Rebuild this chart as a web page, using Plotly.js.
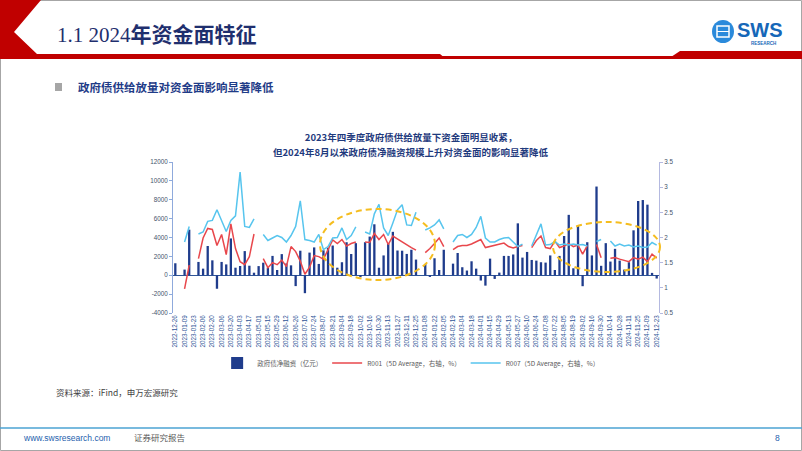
<!DOCTYPE html>
<html><head><meta charset="utf-8">
<script src="https://cdn.plot.ly/plotly-3.0.1.min.js"></script>
<style>html,body{margin:0;padding:0;background:#fff;overflow:hidden}#chart{width:802px;height:451px}</style>
</head><body><div id="chart"></div>
<script>
// ---- data (weekly) ----
const dates = [
"2022-12-26","2023-01-02","2023-01-09","2023-01-16","2023-01-23","2023-01-30","2023-02-06","2023-02-13","2023-02-20","2023-02-27",
"2023-03-06","2023-03-13","2023-03-20","2023-03-27","2023-04-03","2023-04-10","2023-04-17","2023-04-24","2023-05-01","2023-05-08",
"2023-05-15","2023-05-22","2023-05-29","2023-06-05","2023-06-12","2023-06-19","2023-06-26","2023-07-03","2023-07-10","2023-07-17",
"2023-07-24","2023-07-31","2023-08-07","2023-08-14","2023-08-21","2023-08-28","2023-09-04","2023-09-11","2023-09-18","2023-09-25",
"2023-10-02","2023-10-09","2023-10-16","2023-10-23","2023-10-30","2023-11-06","2023-11-13","2023-11-20","2023-11-27","2023-12-04",
"2023-12-11","2023-12-18","2023-12-25","2024-01-01","2024-01-08","2024-01-15","2024-01-22","2024-01-29","2024-02-05","2024-02-12",
"2024-02-19","2024-02-26","2024-03-04","2024-03-11","2024-03-18","2024-03-25","2024-04-01","2024-04-08","2024-04-15","2024-04-22",
"2024-04-29","2024-05-06","2024-05-13","2024-05-20","2024-05-27","2024-06-03","2024-06-10","2024-06-17","2024-06-24","2024-07-01",
"2024-07-08","2024-07-15","2024-07-22","2024-07-29","2024-08-05","2024-08-12","2024-08-19","2024-08-26","2024-09-02","2024-09-09",
"2024-09-16","2024-09-23","2024-09-30","2024-10-07","2024-10-14","2024-10-21","2024-10-28","2024-11-04","2024-11-11","2024-11-18",
"2024-11-25","2024-12-02","2024-12-09","2024-12-16","2024-12-23"];

// 政府债净融资（亿元）
const netFinancing = [
1270,null,600,4830,null,1410,700,3100,1580,-1430,
1410,1150,3900,800,980,2560,1010,270,970,1330,
820,2050,560,2240,1250,1050,-1150,2600,-1900,2400,
2950,1200,2650,2900,3150,800,1380,3500,2250,3400,
-200,3500,4100,5400,800,2100,3350,4600,2620,2600,
2260,2700,1660,null,1200,-180,1800,560,2700,null,
1230,2360,850,500,1480,700,-560,-1100,1760,-390,
280,2050,2050,2200,5500,1870,2470,1620,1550,1380,
1340,2100,560,2050,4160,6400,740,5300,-1160,3500,
2100,9400,1000,3400,1450,2800,1550,600,1380,4760,
7870,7970,7480,250,-350];

// R001 (5D Average, %)
const r001 = [
null,null,0.98,1.45,null,1.58,1.99,2.18,2.16,1.84,
2.06,1.66,2.27,1.78,1.52,1.46,1.62,2.07,null,1.58,
1.40,1.50,1.46,1.55,1.42,1.82,1.72,1.53,1.27,1.41,
1.64,1.62,1.57,1.76,1.95,1.88,1.96,1.83,1.88,1.91,
null,1.91,1.90,2.08,1.96,2.06,1.86,2.03,1.97,1.92,
1.86,1.80,1.75,null,1.70,1.78,1.88,1.99,1.82,null,
1.76,1.82,1.84,1.84,1.87,1.91,1.96,1.80,1.82,1.84,
1.86,1.89,1.82,1.79,1.82,1.84,null,1.80,1.94,2.03,
1.80,1.78,1.93,1.80,1.83,1.88,1.82,1.85,1.67,1.84,
null,1.86,1.60,null,1.59,1.60,1.57,1.54,1.52,1.60,
1.57,1.61,1.52,1.67,1.59];

// R007 (5D Average, %)
const r007 = [
null,null,1.91,2.22,null,2.07,2.11,2.32,2.34,2.55,
2.33,2.12,2.34,2.43,3.30,2.22,2.20,2.37,null,2.06,
1.94,1.99,2.04,2.00,1.91,2.04,2.22,2.73,1.96,1.94,
1.91,2.06,1.76,1.82,1.99,2.00,2.19,1.96,2.04,2.21,
null,2.11,2.07,2.47,2.66,2.19,2.04,2.29,2.55,2.65,
2.25,2.24,2.50,null,2.15,2.19,2.25,2.35,2.17,null,
1.91,2.04,2.06,2.00,2.06,2.20,2.42,1.99,1.91,1.91,
1.96,1.99,2.00,1.91,1.82,1.87,null,1.83,2.05,2.27,
1.85,1.86,1.92,1.85,1.87,1.85,1.87,1.85,1.86,1.83,
null,1.92,1.96,null,1.93,1.83,1.87,1.83,1.85,1.81,
1.83,1.80,1.81,1.90,1.85];

const leftTickVals = [-4000,-2000,0,2000,4000,6000,8000,10000,12000];
const leftTickText = ["-4000","-2000","0","2000","4000","6000","8000","10000","12000"];
const rightTickVals = [0.5,1,1.5,2,2.5,3,3.5];
const rightTickText = ["0.5","1","1.5","2","2.5","3","3.5"];
const xTickLabels = dates.filter((d,i)=>i%2===0);

const seriesNames = ["政府债净融资（亿元）","R001（5D Average，右轴，%）","R007（5D Average，右轴，%）"];
const titleLine1 = "2023年四季度政府债供给放量下资金面明显收紧，";
const titleLine2 = "但2024年8月以来政府债净融资规模上升对资金面的影响显著降低";

// ---- page geometry helpers (pixel -> paper) ----
const L=173,R=659,T=162,B=313;
const px = x => (x-L)/(R-L);
const py = y => (B-y)/(B-T);
function poly(pts){return pts.map((p,i)=>(i?'L':'M')+px(p[0]).toFixed(5)+','+py(p[1]).toFixed(5)).join(' ')+' Z';}
const noLine = {color:'rgba(0,0,0,0)',width:0};
const CJK = "Noto Sans CJK SC, Liberation Sans, sans-serif";

const shapes = [
  {type:'rect',xref:'paper',yref:'paper',x0:px(0.5),x1:px(801.5),y0:py(450.5),y1:py(0.5),line:{color:'#A6A6A6',width:1},fillcolor:'rgba(0,0,0,0)',layer:'above'},
  {type:'path',xref:'paper',yref:'paper',path:poly([[0,0],[41,0],[14,32],[37,54],[440,54],[446,59],[0,59]]),fillcolor:'#C00000',line:noLine,layer:'above'},
  {type:'path',xref:'paper',yref:'paper',path:poly([[440,56],[680,56],[680,59],[440,59]]),fillcolor:'#C00000',line:noLine,layer:'above'},
  {type:'path',xref:'paper',yref:'paper',path:poly([[668,59],[680,51],[802,51],[802,59]]),fillcolor:'#C00000',line:noLine,layer:'above'},
  {type:'circle',xref:'paper',yref:'paper',x0:px(712),x1:px(734),y0:py(43),y1:py(20),fillcolor:'#2B8ADB',line:noLine,layer:'above'},
  {type:'rect',xref:'paper',yref:'paper',x0:px(717),x1:px(729),y0:py(37),y1:py(26),fillcolor:'rgba(0,0,0,0)',line:{color:'#ffffff',width:1.5},layer:'above'},
  {type:'line',xref:'paper',yref:'paper',x0:px(717),x1:px(729),y0:py(31.5),y1:py(31.5),line:{color:'#ffffff',width:1},layer:'above'},
  {type:'rect',xref:'paper',yref:'paper',x0:px(55),x1:px(62),y0:py(91),y1:py(83),fillcolor:'#A6A6A6',line:noLine,layer:'above'},
  {type:'line',xref:'paper',yref:'paper',x0:px(0),x1:px(802),y0:py(428),y1:py(428),line:{color:'#4BA3D3',width:1.5},layer:'above'},
  {type:'circle',xref:'paper',yref:'paper',x0:px(320),x1:px(435),y0:py(280),y1:py(209),line:{color:'#F5BD1F',width:2,dash:'6px,4px'},fillcolor:'rgba(0,0,0,0)',layer:'above'},
  {type:'circle',xref:'paper',yref:'paper',x0:px(553),x1:px(660),y0:py(272),y1:py(222),line:{color:'#F5BD1F',width:2,dash:'6px,4px'},fillcolor:'rgba(0,0,0,0)',layer:'above'}
];

function ann(x,y,text,font,xanchor){return {xref:'paper',yref:'paper',x:px(x),y:py(y),text:text,showarrow:false,xanchor:xanchor||'left',yanchor:'middle',font:font};}
const annotations = [
  ann(55,35,"1.1 2024<b>年资金面特征</b>",{family:"Liberation Serif, Noto Sans CJK SC, serif",size:21,color:'#1F2F6E'}),
  ann(735,30,"<b>SWS</b>",{family:"Liberation Sans, Arial, sans-serif",size:20,color:'#1667B8'}),
  ann(749,43,"<b>RESEARCH</b>",{family:"Liberation Sans, Arial, sans-serif",size:4.5,color:'#1667B8'}),
  ann(76,87,"<b>政府债供给放量对资金面影响显著降低</b>",{family:CJK,size:11.5,color:'#1F3C88'}),
  ann(411,151.5,"<b>"+titleLine2+"</b>",{family:CJK,size:9.5,color:'#1F3A7D'},'center'),
  ann(54,392,"资料来源：iFind，申万宏源研究",{family:CJK,size:8.5,color:'#404040'}),
  ann(21,438,"www.swsresearch.com",{family:"Liberation Sans, Arial, sans-serif",size:8.5,color:'#1F5FAE'}),
  ann(132,437,"证券研究报告",{family:CJK,size:8.5,color:'#595959'}),
  ann(773,438,"8",{family:"Liberation Sans, Arial, sans-serif",size:8.5,color:'#1F5FAE'})
];

const traces = [
  {type:'bar',x:dates,y:netFinancing,name:seriesNames[0],yaxis:'y',marker:{color:'#1F3C8C'},hoverinfo:'skip'},
  {type:'scatter',mode:'lines',x:dates,y:r001,name:seriesNames[1],yaxis:'y2',line:{color:'#E8474C',width:1.5},connectgaps:false,hoverinfo:'skip'},
  {type:'scatter',mode:'lines',x:dates,y:r007,name:seriesNames[2],yaxis:'y2',line:{color:'#57C5EE',width:1.5},connectgaps:false,hoverinfo:'skip'}
];

const layout = {
  width:802,height:451,
  margin:{l:L,r:802-R,t:T,b:451-B,pad:0,autoexpand:false},
  paper_bgcolor:'#ffffff',plot_bgcolor:'rgba(0,0,0,0)',
  font:{family:CJK,size:7,color:'#595959'},
  title:{text:titleLine1,x:411/802,xref:'container',xanchor:'center',y:1-137.5/451,yref:'container',yanchor:'middle',
         font:{family:CJK,size:9.5,color:'#1F3A7D',weight:'bold'}},
  bargap:0.5,
  showlegend:true,
  legend:{orientation:'h',x:0.49,y:py(363),xanchor:'center',yanchor:'middle',font:{family:CJK,size:6.5,color:'#595959'},itemwidth:30,bgcolor:'rgba(0,0,0,0)'},
  xaxis:{type:'category',range:[-0.5,dates.length-0.5],tickmode:'array',tickvals:xTickLabels,ticktext:xTickLabels,tickangle:-90,
         tickfont:{family:"Liberation Sans, Arial, sans-serif",size:6.3,color:'#2F5597'},showgrid:false,zeroline:false,showline:false,ticks:'',fixedrange:true},
  yaxis:{range:[-4000,12000],tickmode:'array',tickvals:leftTickVals,ticktext:leftTickText,showgrid:false,
         zeroline:true,zerolinecolor:'#2F5597',zerolinewidth:1,showline:true,linecolor:'#8FAADC',linewidth:1,ticks:'outside',ticklen:3,tickcolor:'#8FAADC',
         tickfont:{family:"Liberation Sans, Arial, sans-serif",size:6.3,color:'#44546A'}},
  yaxis2:{range:[0.5,3.5],overlaying:'y',side:'right',tickmode:'array',tickvals:rightTickVals,ticktext:rightTickText,showgrid:false,zeroline:false,
         showline:true,linecolor:'#B4B9E0',linewidth:1,ticks:'outside',ticklen:3,tickcolor:'#B4B9E0',
         tickfont:{family:"Liberation Sans, Arial, sans-serif",size:6.3,color:'#44546A'}},
  shapes:shapes,
  annotations:annotations
};

Plotly.newPlot('chart',traces,layout,{staticPlot:true,displayModeBar:false});
</script></body></html>
